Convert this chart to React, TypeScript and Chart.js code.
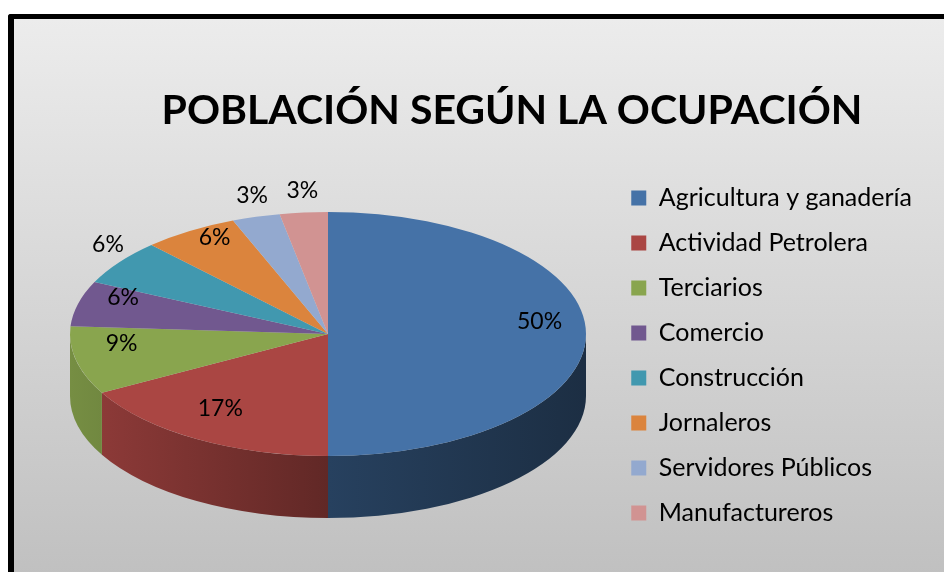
import React, { useEffect, useRef } from 'react';
import { Chart, registerables } from 'chart.js';

Chart.register(...registerables);

const titleText = 'POBLACIÓN SEGÚN LA OCUPACIÓN';
const categories = [
  'Agricultura y ganadería',
  'Actividad Petrolera',
  'Terciarios',
  'Comercio',
  'Construcción',
  'Jornaleros',
  'Servidores Públicos',
  'Manufactureros',
];
const shares = [50, 17, 9, 6, 6, 6, 3, 3];
const sliceColors = ['#4572A7', '#AA4643', '#89A54E', '#71588F', '#4198AF', '#DB843D', '#93A9CF', '#D19392'];
// where each percentage label sits: inside or outside the slice
const labelPlacement = ['in', 'in', 'in', 'in', 'out', 'in', 'out', 'out'];

const FONT = 'Lato, "Open Sans", "DejaVu Sans", sans-serif';

function shade(hex: string, f: number): string {
  const n = parseInt(hex.slice(1), 16);
  const r = Math.round(((n >> 16) & 255) * f);
  const g = Math.round(((n >> 8) & 255) * f);
  const b = Math.round((n & 255) * f);
  return `rgb(${r},${g},${b})`;
}

const pie3d = {
  id: 'pie3d',
  beforeDatasetsDraw(chart: any, _args: any, opts: any) {
    const meta = chart.getDatasetMeta(0);
    const arcs = meta.data;
    if (!arcs || !arcs.length) return;
    const ctx = chart.ctx as CanvasRenderingContext2D;
    const { cx, cy, rx, ry, depth } = opts;
    const TAU = Math.PI * 2;
    ctx.save();
    arcs.forEach((arc: any, i: number) => {
      const a = arc.startAngle;
      const b = arc.endAngle;
      const s = ((a % TAU) + TAU) % TAU;
      const e = s + (b - a);
      const ranges = [
        [0, Math.PI],
        [TAU, TAU + Math.PI],
      ];
      for (const [lo, hi] of ranges) {
        const s2 = Math.max(s, lo);
        const e2 = Math.min(e, hi);
        if (e2 > s2) {
          const col = sliceColors[i % sliceColors.length];
          const g = ctx.createLinearGradient(cx - rx, 0, cx + rx, 0);
          g.addColorStop(0, shade(col, 0.86));
          g.addColorStop(0.5, shade(col, 0.57));
          g.addColorStop(1, shade(col, 0.4));
          ctx.beginPath();
          ctx.ellipse(cx, cy, rx, ry, 0, s2, e2);
          ctx.ellipse(cx, cy + depth, rx, ry, 0, e2, s2, true);
          ctx.closePath();
          ctx.fillStyle = g;
          ctx.fill();
        }
      }
    });
    ctx.restore();
    const a0 = arcs[0];
    ctx.save();
    ctx.translate(cx, cy);
    ctx.scale(rx / a0.outerRadius, ry / a0.outerRadius);
    ctx.translate(-a0.x, -a0.y);
    chart.$pie3dSaved = true;
  },
  afterDatasetsDraw(chart: any, _args: any, opts: any) {
    const ctx = chart.ctx as CanvasRenderingContext2D;
    if (chart.$pie3dSaved) {
      ctx.restore();
      chart.$pie3dSaved = false;
    }
    const meta = chart.getDatasetMeta(0);
    const arcs = meta.data;
    const { cx, cy, rx, ry, labelLift } = opts;
    const lcy = cy - labelLift;
    const values = chart.data.datasets[0].data as number[];
    const total = values.reduce((p, v) => p + v, 0);
    ctx.save();
    ctx.font = `23px ${FONT}`;
    ctx.fillStyle = '#000';
    ctx.textAlign = 'center';
    ctx.textBaseline = 'middle';
    arcs.forEach((arc: any, i: number) => {
      const mid = (arc.startAngle + arc.endAngle) / 2;
      const c = Math.cos(mid);
      const s = Math.sin(mid);
      let x: number;
      let y: number;
      if (labelPlacement[i] === 'out') {
        x = cx + (rx + 14) * c;
        y = lcy + (ry + 10) * s;
      } else {
        x = cx + rx * 0.82 * c;
        y = lcy + ry * 0.82 * s;
      }
      const pct = Math.round((values[i] / total) * 100);
      ctx.fillText(`${pct}%`, x, y);
    });
    ctx.restore();
  },
};

export default function App() {
  const ref = useRef<HTMLCanvasElement | null>(null);
  useEffect(() => {
    if (!ref.current) return;
    const chart = new Chart(ref.current, {
      type: 'pie',
      data: {
        labels: categories,
        datasets: [
          {
            data: shares,
            backgroundColor: sliceColors,
            borderWidth: 0,
          },
        ],
      },
      options: {
        responsive: false,
        animation: false,
        events: [],
        layout: { padding: { left: 102, right: 22, top: 0, bottom: 0 } },
        plugins: {
          tooltip: { enabled: false },
          title: {
            display: true,
            text: titleText,
            color: '#000',
            font: { family: FONT, size: 41, weight: 'bold', lineHeight: 1.2 },
            padding: { top: 86.4, bottom: 29.8 },
          },
          legend: {
            display: true,
            position: 'right',
            align: 'start',
            fullSize: false,
            labels: {
              boxWidth: 15,
              boxHeight: 15,
              padding: 20,
              color: '#000',
              font: { family: FONT, size: 25 },
            },
          },
          pie3d: { cx: 328, cy: 334, rx: 258, ry: 122, depth: 62, labelLift: 12 },
        } as any,
      },
      plugins: [pie3d],
    });
    return () => chart.destroy();
  }, []);

  return (
    <div style={{ position: 'fixed', left: 0, top: 0, width: 944, height: 572, overflow: 'hidden', background: '#fff' }}>
      <div
        style={{
          position: 'absolute',
          left: 8,
          top: 14,
          width: 960,
          height: 600,
          boxSizing: 'border-box',
          borderLeft: '6px solid #000',
          borderTop: '5px solid #000',
          borderTopLeftRadius: 3,
          background: 'linear-gradient(#ececec 0px, #c0c0c0 558px)',
        }}
      />
      <canvas ref={ref} width={944} height={572} style={{ position: 'absolute', left: 0, top: 0, width: 944, height: 572 }} />
    </div>
  );
}
